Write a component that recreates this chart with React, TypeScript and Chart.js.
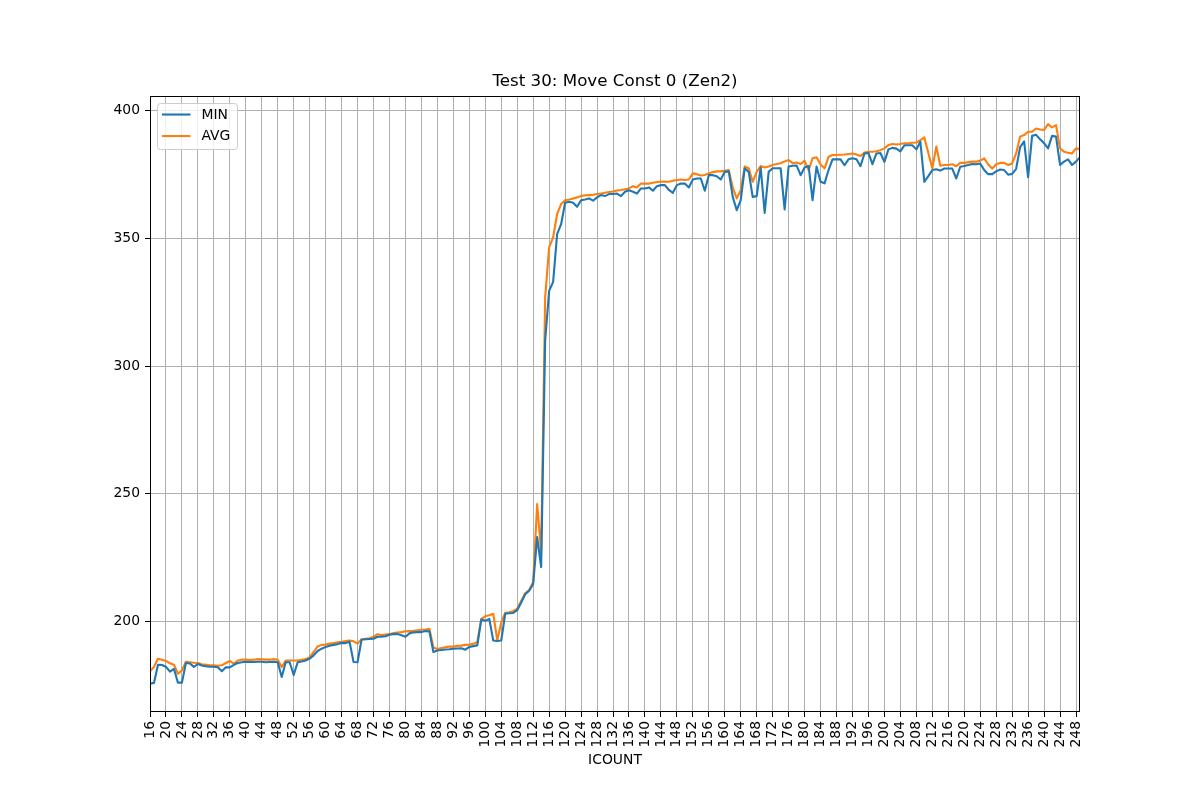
import React, { useEffect, useRef } from "react";
import { Chart, registerables } from "chart.js";

Chart.register(...registerables);

const chartTitle = "Test 30: Move Const 0 (Zen2)";
const xAxisTitle = "ICOUNT";
const seriesNames = ["MIN", "AVG"];
const seriesColors = ["#1f77b4", "#ff7f0e"];

const icount = [
  16, 17, 18, 19, 20, 21, 22, 23, 24, 25,
  26, 27, 28, 29, 30, 31, 32, 33, 34, 35,
  36, 37, 38, 39, 40, 41, 42, 43, 44, 45,
  46, 47, 48, 49, 50, 51, 52, 53, 54, 55,
  56, 57, 58, 59, 60, 61, 62, 63, 64, 65,
  66, 67, 68, 69, 70, 71, 72, 73, 74, 75,
  76, 77, 78, 79, 80, 81, 82, 83, 84, 85,
  86, 87, 88, 89, 90, 91, 92, 93, 94, 95,
  96, 97, 98, 99, 100, 101, 102, 103, 104, 105,
  106, 107, 108, 109, 110, 111, 112, 113, 114, 115,
  116, 117, 118, 119, 120, 121, 122, 123, 124, 125,
  126, 127, 128, 129, 130, 131, 132, 133, 134, 135,
  136, 137, 138, 139, 140, 141, 142, 143, 144, 145,
  146, 147, 148, 149, 150, 151, 152, 153, 154, 155,
  156, 157, 158, 159, 160, 161, 162, 163, 164, 165,
  166, 167, 168, 169, 170, 171, 172, 173, 174, 175,
  176, 177, 178, 179, 180, 181, 182, 183, 184, 185,
  186, 187, 188, 189, 190, 191, 192, 193, 194, 195,
  196, 197, 198, 199, 200, 201, 202, 203, 204, 205,
  206, 207, 208, 209, 210, 211, 212, 213, 214, 215,
  216, 217, 218, 219, 220, 221, 222, 223, 224, 225,
  226, 227, 228, 229, 230, 231, 232, 233, 234, 235,
  236, 237, 238, 239, 240, 241, 242, 243, 244, 245,
  246, 247, 248, 249,
];

const minValues = [
  175.6, 175.9, 183.0, 182.9, 182.2, 180.3, 181.4, 176.0, 176.0, 183.7,
  183.5, 182.2, 183.3, 182.7, 182.4, 182.2, 182.2, 182.0, 180.5, 182.0,
  182.0, 183.0, 183.7, 184.0, 184.2, 184.1, 184.1, 184.2, 184.2, 184.0,
  184.1, 184.2, 184.0, 178.2, 184.0, 184.0, 179.0, 184.0, 184.3, 184.7,
  185.4, 186.7, 188.4, 189.3, 190.0, 190.5, 190.8, 191.1, 191.5, 191.5,
  192.0, 184.1, 184.0, 192.8, 193.0, 193.1, 193.2, 194.0, 194.0, 194.2,
  194.8, 195.0, 195.1, 194.6, 194.0, 195.3, 195.7, 195.8, 195.8, 196.2,
  196.1, 188.0, 188.6, 188.8, 189.0, 189.1, 189.3, 189.4, 189.5, 188.9,
  190.0, 190.3, 190.6, 200.7, 200.2, 201.0, 192.5, 192.3, 192.5, 203.0,
  203.2, 203.3, 204.4, 207.4, 210.6, 212.0, 214.7, 233.0, 221.3, 310.0,
  329.5, 333.0, 351.7, 355.6, 364.0, 364.4, 364.0, 362.4, 365.0, 365.3,
  365.7, 364.8, 366.1, 367.0, 366.6, 367.4, 367.4, 367.6, 366.6, 368.3,
  368.9, 368.3, 367.6, 369.6, 369.6, 370.0, 368.7, 370.5, 370.9, 370.9,
  369.0, 367.9, 370.9, 371.5, 371.5, 370.0, 373.1, 373.5, 373.5, 368.7,
  374.8, 374.8, 374.4, 373.1, 376.1, 376.3, 366.3, 361.1, 365.0, 377.5,
  376.1, 366.3, 366.6, 377.8, 360.0, 376.1, 377.5, 377.5, 377.5, 361.4,
  378.2, 378.5, 378.6, 374.8, 377.8, 378.4, 365.0, 378.2, 372.2, 371.6,
  376.8, 381.0, 381.0, 381.0, 378.7, 381.0, 381.4, 381.0, 378.3, 383.3,
  383.5, 379.1, 383.3, 383.5, 380.0, 384.9, 385.5, 385.2, 384.1, 386.5,
  386.5, 386.5, 384.9, 387.9, 372.2, 374.4, 376.8, 377.1, 376.6, 377.4,
  377.4, 377.4, 373.5, 378.1, 378.4, 378.8, 379.2, 379.1, 379.4, 376.8,
  375.2, 375.2, 376.3, 377.0, 376.8, 375.0, 375.3, 377.3, 385.8, 388.0,
  374.0, 390.2, 390.6, 388.9, 387.3, 385.3, 390.2, 389.9, 378.8, 380.1,
  381.0, 378.8, 380.1, 381.8,
];

const avgValues = [
  180.4, 182.2, 185.4, 185.0, 184.5, 183.6, 183.0, 179.5, 180.8, 184.2,
  184.0, 183.8, 183.7, 183.2, 183.0, 182.8, 182.8, 182.6, 182.8, 183.7,
  184.5, 183.4, 184.7, 185.0, 185.0, 184.9, 185.0, 185.2, 185.1, 185.0,
  185.0, 185.2, 185.0, 182.1, 184.7, 184.7, 184.7, 184.7, 185.0, 185.2,
  186.0, 188.0, 190.2, 190.8, 190.9, 191.3, 191.5, 191.8, 192.0, 192.3,
  192.5, 192.2, 191.3, 193.0, 193.2, 193.4, 194.0, 195.0, 194.6, 194.8,
  195.0, 195.4, 195.6, 195.8, 196.1, 196.2, 196.3, 196.5, 196.7, 196.8,
  197.1, 189.8, 189.2, 189.6, 189.9, 190.1, 190.1, 190.4, 190.5, 190.8,
  190.9, 191.2, 191.9, 201.0, 202.0, 202.4, 203.0, 192.6, 199.5, 203.4,
  203.6, 204.0, 205.0, 208.0, 211.0, 212.3, 215.4, 246.0, 227.0, 326.9,
  346.5, 350.4, 359.6, 363.5, 365.0, 365.3, 365.7, 366.1, 366.6, 366.9,
  367.0, 367.1, 367.4, 367.6, 367.9, 368.2, 368.4, 368.8, 369.0, 369.3,
  369.6, 370.5, 370.0, 371.5, 371.5, 371.5, 371.8, 372.1, 372.2, 372.3,
  372.2, 372.6, 372.9, 373.1, 372.9, 373.1, 375.5, 375.2, 374.7, 374.9,
  375.5, 376.0, 376.3, 376.3, 376.5, 376.8, 370.0, 365.7, 368.9, 378.2,
  377.5, 372.2, 376.1, 378.4, 377.8, 378.2, 378.8, 379.2, 379.5, 380.2,
  380.7, 379.5, 379.8, 379.2, 380.5, 376.8, 381.4, 381.8, 379.0, 377.5,
  382.0, 382.7, 382.7, 382.8, 382.9, 383.1, 383.3, 382.9, 382.3, 383.7,
  384.0, 384.0, 384.2, 384.6, 385.3, 386.6, 387.0, 386.8, 387.0, 387.3,
  387.3, 387.5, 387.6, 388.5, 389.6, 383.5, 377.5, 386.0, 378.5, 378.8,
  378.8, 379.1, 378.3, 379.6, 379.6, 379.9, 380.1, 380.1, 380.5, 381.4,
  379.0, 377.4, 379.1, 379.6, 379.6, 378.8, 379.4, 383.3, 389.9, 390.5,
  391.8, 391.8, 393.1, 392.7, 392.5, 394.8, 393.5, 394.4, 385.3, 384.0,
  383.6, 383.3, 385.3, 384.9,
];

const xTickValues = [
  16, 20, 24, 28, 32, 36, 40, 44, 48, 52, 56, 60, 64, 68, 72, 76, 80, 84, 88,
  92, 96, 100, 104, 108, 112, 116, 120, 124, 128, 132, 136, 140, 144, 148, 152,
  156, 160, 164, 168, 172, 176, 180, 184, 188, 192, 196, 200, 204, 208, 212,
  216, 220, 224, 228, 232, 236, 240, 244, 248,
];
const yTickValues = [200, 250, 300, 350, 400];

const FONT = "'DejaVu Sans', sans-serif";

export default function App() {
  const ref = useRef<HTMLCanvasElement>(null);

  useEffect(() => {
    if (!ref.current) return;

    const frameLegend = {
      id: "frameLegend",
      afterDraw(chart: any) {
        const { ctx, chartArea: a } = chart;
        ctx.save();
        // spines
        ctx.strokeStyle = "#000";
        ctx.lineWidth = 1;
        ctx.strokeRect(
          Math.round(a.left) + 0.5,
          Math.round(a.top) + 0.5,
          Math.round(a.right - a.left) - 1,
          Math.round(a.bottom - a.top) - 1
        );
        // legend box
        const bx = a.left + 7.5;
        const by = a.top + 7.5;
        const bw = 80;
        const bh = 46;
        const r = 3;
        ctx.beginPath();
        ctx.moveTo(bx + r, by);
        ctx.lineTo(bx + bw - r, by);
        ctx.quadraticCurveTo(bx + bw, by, bx + bw, by + r);
        ctx.lineTo(bx + bw, by + bh - r);
        ctx.quadraticCurveTo(bx + bw, by + bh, bx + bw - r, by + bh);
        ctx.lineTo(bx + r, by + bh);
        ctx.quadraticCurveTo(bx, by + bh, bx, by + bh - r);
        ctx.lineTo(bx, by + r);
        ctx.quadraticCurveTo(bx, by, bx + r, by);
        ctx.closePath();
        ctx.fillStyle = "rgba(255,255,255,0.8)";
        ctx.fill();
        ctx.strokeStyle = "#cccccc";
        ctx.lineWidth = 1;
        ctx.stroke();
        seriesNames.forEach((name, i) => {
          const ly = by + 11 + i * 21.5;
          ctx.beginPath();
          ctx.moveTo(bx + 4.5, ly);
          ctx.lineTo(bx + 33, ly);
          ctx.strokeStyle = seriesColors[i];
          ctx.lineWidth = 2.1;
          ctx.stroke();
          ctx.fillStyle = "#000";
          ctx.font = "13.9px " + FONT;
          ctx.textBaseline = "middle";
          ctx.textAlign = "left";
          ctx.fillText(name, bx + 44, ly + 0.5);
        });
        ctx.restore();
      },
    };

    const tickFont = { family: FONT, size: 13.9, lineHeight: 1.2 };
    const grid = {
      color: "#b0b0b0",
      lineWidth: 1,
      drawTicks: true,
      tickLength: 5,
      tickColor: "#000",
      tickWidth: 1,
    };

    const chart = new Chart(ref.current, {
      type: "line",
      data: {
        datasets: [
          {
            label: seriesNames[0],
            data: icount.map((x, i) => ({ x, y: minValues[i] })),
            borderColor: seriesColors[0],
            backgroundColor: seriesColors[0],
            borderWidth: 2.1,
            pointRadius: 0,
            tension: 0,
            fill: false,
            borderJoinStyle: "round",
          },
          {
            label: seriesNames[1],
            data: icount.map((x, i) => ({ x, y: avgValues[i] })),
            borderColor: seriesColors[1],
            backgroundColor: seriesColors[1],
            borderWidth: 2.1,
            pointRadius: 0,
            tension: 0,
            fill: false,
            borderJoinStyle: "round",
          },
        ],
      },
      plugins: [frameLegend],
      options: {
        animation: false,
        responsive: false,
        devicePixelRatio: 1,
        layout: { padding: { left: 0, right: 120, top: 0, bottom: 0 } },
        plugins: {
          legend: { display: false },
          tooltip: { enabled: false },
          title: {
            display: true,
            text: chartTitle,
            fullSize: false,
            color: "#000",
            font: { family: FONT, size: 16.7, weight: "normal", lineHeight: 1.2 },
            padding: { top: 72, bottom: 4 },
          },
        },
        scales: {
          x: {
            type: "linear",
            min: 16,
            max: 249,
            afterBuildTicks: (s: any) => {
              s.ticks = xTickValues.map((v) => ({ value: v }));
            },
            afterFit: (s: any) => {
              s.height = 88;
            },
            grid,
            border: { display: false },
            ticks: {
              autoSkip: false,
              minRotation: 90,
              maxRotation: 90,
              padding: 4,
              color: "#000",
              font: tickFont,
              callback: (v: any) => String(v),
            },
            title: {
              display: true,
              text: xAxisTitle,
              color: "#000",
              font: tickFont,
              padding: { top: 0, bottom: 31.6 },
            },
          },
          y: {
            type: "linear",
            min: 164.5,
            max: 405.8,
            afterBuildTicks: (s: any) => {
              s.ticks = yTickValues.map((v) => ({ value: v }));
            },
            afterFit: (s: any) => {
              s.width = 150;
            },
            grid,
            border: { display: false },
            ticks: {
              padding: 5,
              color: "#000",
              font: tickFont,
              callback: (v: any) => String(v),
            },
          },
        },
      },
    } as any);

    return () => chart.destroy();
  }, []);

  return (
    <div
      style={{
        position: "fixed",
        left: 0,
        top: 0,
        width: 1200,
        height: 800,
        background: "#fff",
      }}
    >
      <canvas
        ref={ref}
        width={1200}
        height={800}
        style={{ width: 1200, height: 800, display: "block" }}
      />
    </div>
  );
}
